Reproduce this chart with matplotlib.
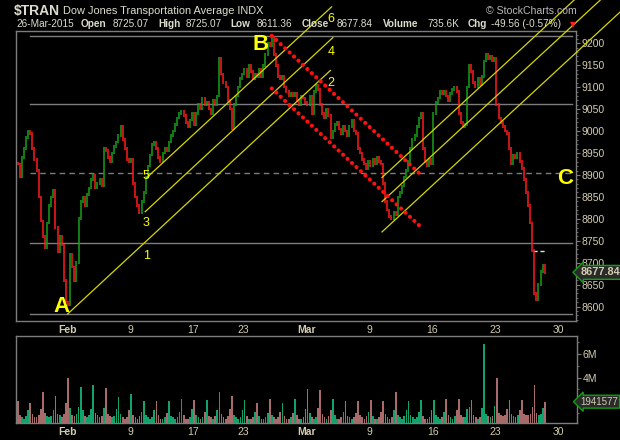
import matplotlib
matplotlib.use("Agg")
import matplotlib.pyplot as plt
from matplotlib.ticker import MultipleLocator, FuncFormatter
import numpy as np

plt.rcParams['font.family'] = ['Liberation Sans', 'DejaVu Sans']

# x unit = trading day, 0 = Feb 2 2015 (Feb 16 holiday skipped); 6 intraday bars per day
first_day = -4
bars_per_day = 6
tick_days = [0, 5, 10, 14, 19, 24, 29, 34, 39]
tick_labels = ["Feb", "9", "17", "23", "Mar", "9", "16", "23", "30"]

closes = [
    # Jan 27 - Jan 30
    8925, 8895, 8940, 8960, 8985, 9000,
    8995, 8960, 8935, 8910, 8850, 8795,
    8760, 8735, 8790, 8830, 8850, 8865,
    8780, 8725, 8760, 8740, 8660, 8610,
    # Feb 2 - Feb 6
    8605, 8720, 8690, 8660, 8700, 8800,
    8840, 8850, 8830, 8855, 8870, 8890,
    8900, 8870, 8880, 8890, 8875, 8960,
    8955, 8940, 8930, 8950, 8965, 8975,
    8990, 9010, 8980, 8960, 8935, 8930,
    # Feb 9 - Feb 13
    8935, 8880, 8850, 8830, 8815, 8840,
    8860, 8895, 8920, 8945, 8970, 8975,
    8960, 8940, 8930, 8950, 8960, 8955,
    8975, 8990, 9000, 9015, 9030, 9040,
    9045, 9035, 9020, 9010, 9025, 9040,
    # Feb 17 - Feb 20
    9015, 9040, 9060, 9050, 9075, 9060,
    9065, 9050, 9040, 9070, 9060, 9080,
    9165, 9130, 9110, 9100, 9070, 9050,
    9005, 9060, 9080, 9100, 9120, 9130,
    # Feb 23 - Feb 27
    9140, 9125, 9150, 9135, 9120, 9130,
    9125, 9140, 9125, 9150, 9175, 9200,
    9195, 9214, 9175, 9150, 9125, 9120,
    9125, 9100, 9090, 9080, 9085, 9080,
    9085, 9070, 9060, 9080, 9075, 9065,
    # Mar 2 - Mar 6
    9060, 9080, 9040, 9090, 9105, 9095,
    9060, 9040, 9030, 9050, 9035, 8985,
    9000, 9015, 9020, 9005, 8995, 9010,
    9000, 8990, 9010, 9025, 9000, 8995,
    8960, 8950, 8935, 8925, 8915, 8930,
    # Mar 9 - Mar 13
    8920, 8935, 8925, 8940, 8930, 8925,
    8880, 8840, 8820, 8805, 8800, 8815,
    8810, 8850, 8860, 8875, 8895, 8910,
    8930, 8960, 8980, 8990, 9010, 9030,
    9040, 8960, 8930, 8920, 8935, 8925,
    # Mar 16 - Mar 20
    9040, 9065, 9075, 9090, 9085, 9090,
    9080, 9070, 9085, 9095, 9100, 9090,
    9040, 9020, 9010, 9015, 9100, 9150,
    9135, 9110, 9100, 9120, 9105, 9125,
    9160, 9175, 9165, 9170, 9160, 9165,
    # Mar 23 - Mar 26
    9060, 9030, 9020, 9010, 9000, 8995,
    8960, 8925, 8945, 8940, 8950, 8930,
    8915, 8890, 8860, 8830, 8790, 8727.40,
    8630, 8615, 8650, 8680, 8695, 8677.84,
]

# volume in millions, same bars
volumes_m = [
    2.0, 0.8, 0.6, 0.5, 0.7, 1.2,
    1.8, 0.9, 0.6, 0.6, 0.8, 1.3,
    2.8, 1.0, 0.7, 0.6, 0.7, 1.2,
    2.4, 0.9, 0.8, 0.6, 0.9, 1.8,
    3.95, 1.4, 0.8, 0.7, 0.9, 1.5,
    3.2, 1.2, 0.7, 0.6, 0.8, 1.3,
    3.4, 1.0, 0.8, 0.6, 0.7, 1.4,
    3.1, 0.9, 0.7, 0.6, 0.7, 1.3,
    2.3, 0.9, 0.6, 0.5, 0.6, 1.2,
    2.6, 0.8, 0.6, 0.5, 0.7, 1.1,
    2.0, 0.8, 0.6, 0.5, 0.6, 1.2,
    2.0, 0.8, 0.5, 0.5, 0.6, 1.0,
    2.0, 0.7, 0.6, 0.5, 0.6, 1.1,
    2.2, 0.8, 0.5, 0.5, 0.6, 1.3,
    2.1, 0.8, 0.6, 0.5, 0.6, 1.1,
    2.1, 0.7, 0.6, 0.5, 0.7, 1.2,
    2.8, 0.9, 0.6, 0.5, 0.7, 1.3,
    2.4, 0.8, 0.6, 0.5, 0.6, 1.2,
    2.1, 0.7, 0.5, 0.5, 0.6, 1.1,
    1.8, 0.7, 0.5, 0.5, 0.6, 1.0,
    2.2, 0.8, 0.6, 0.5, 0.6, 1.1,
    1.8, 0.7, 0.5, 0.5, 0.6, 1.0,
    2.2, 0.8, 0.5, 0.5, 0.6, 1.3,
    3.0, 1.0, 0.6, 0.5, 0.6, 1.4,
    2.9, 0.9, 0.6, 0.5, 0.7, 1.2,
    2.2, 0.8, 0.5, 0.5, 0.6, 1.1,
    2.0, 0.7, 0.6, 0.5, 0.6, 1.0,
    2.0, 0.8, 0.6, 0.5, 0.7, 1.1,
    2.1, 0.7, 0.5, 0.5, 0.6, 1.1,
    2.0, 0.9, 0.6, 0.5, 0.6, 1.2,
    2.8, 0.8, 0.6, 0.5, 0.7, 1.2,
    2.0, 0.8, 0.6, 0.5, 0.6, 1.1,
    2.1, 0.7, 0.5, 0.5, 0.6, 1.2,
    2.1, 0.8, 0.6, 0.5, 0.6, 1.1,
    2.2, 0.8, 0.6, 0.5, 0.7, 1.2,
    2.2, 0.8, 0.6, 0.6, 1.3, 1.5,
    2.1, 0.8, 0.6, 0.5, 0.6, 1.4,
    6.9, 0.9, 0.7, 0.6, 0.7, 1.6,
    4.0, 1.0, 0.8, 0.7, 0.8, 1.3,
    2.1, 0.9, 0.7, 0.6, 0.8, 1.2,
    2.1, 0.9, 0.8, 0.8, 0.9, 1.5,
    3.4, 1.0, 0.8, 0.9, 1.4, 1.94,
]

# drawn levels and annotation lines (day, price)
solid_levels = [9217, 9062, 8744, 8583]
dashed_level = 8904
prev_close = 8727.40
last_close = 8677.84
last_volume = 1941577
chan_a_days = [[0.05, 20.9], [6.2, 21.1], [6.3, 21.0]]
chan_a_prices = [[8583, 9138], [8816, 9213], [8893, 9283]]
chan_b_days = [[25.0, 46.0], [25.0, 46.0], [25.0, 46.0]]
chan_b_prices = [[8894, 9451], [8839, 9396], [8770, 9327]]
down_days = [[16.25, 28.1], [16.25, 28.1]]
down_prices = [[9217, 8900], [9097, 8781]]

BG = 'black'
GRID = '#7c7c7c'
TXT = '#d4cdb0'
HEAD = '#dcdccc'
UP, DN = '#18a018', '#ff1c1c'
VUP, VDN = '#10a46c', '#a96a6a'
YEL = '#ffff00'
W, H = 620, 440


def box(l, t, r, b):
    return [l / W, 1 - b / H, (r - l) / W, (b - t) / H]


def fpos(x, y):
    return x / W, 1 - y / H


fig = plt.figure(figsize=(6.2, 4.4), dpi=100, facecolor=BG)
ax = fig.add_axes(box(16, 31, 576, 321), facecolor=BG)
axv = fig.add_axes(box(16, 336, 577, 423), facecolor=BG)

c = np.array(closes, dtype=float)
v = np.array(volumes_m) * 1e6
x = first_day + (np.arange(len(c)) + 0.5) / bars_per_day
prev = np.r_[c[0] + 1, c[:-1]]
up = c > prev

# price bars
lo = np.minimum(prev, c) - 3
hi = np.maximum(prev, c) + 3
ax.vlines(x, lo, hi, colors=np.where(up, UP, DN), linewidth=1.1, zorder=3)

# horizontal levels
for lv in solid_levels:
    ax.axhline(lv, xmin=0.025, xmax=0.993, color=GRID, lw=1, zorder=1)
ax.axhline(dashed_level, xmin=0.025, xmax=0.993, color=GRID, lw=1, ls=(0, (4, 3)), zorder=1)
ax.plot([37, 38], [prev_close, prev_close], color='#e0e0e0', lw=1, ls=(0, (3, 2)), zorder=2)

# trend channels
for dd, pp in zip(chan_a_days + chan_b_days, chan_a_prices + chan_b_prices):
    ax.plot(dd, pp, color='#d6d600', lw=0.9, clip_on=False, zorder=5)
for dd, pp in zip(down_days, down_prices):
    ax.plot(dd, pp, color='#ff1010', lw=3.0, ls=(0, (0.01, 1.45)),
            dash_capstyle='round', clip_on=False, zorder=6)

ax.set_xlim(-4.05, 40.4)
ax.set_ylim(8567, 9228)
axv.set_xlim(-4.05, 40.45)
axv.set_ylim(0.12e6, 7.55e6)

axv.bar(x, v, width=0.8 / bars_per_day, color=np.where(up, VUP, VDN), zorder=2)

for a in (ax, axv):
    for s in a.spines.values():
        s.set_color(GRID)
        s.set_linewidth(1)
    a.set_xticks(tick_days)
    a.set_xticklabels(tick_labels)
    a.tick_params(axis='x', length=0, pad=3, labelsize=7.5, labelcolor=TXT)
    a.yaxis.tick_right()
    a.tick_params(axis='y', which='both', colors=GRID, labelcolor=TXT,
                  labelsize=7.5, pad=1.2)
    a.tick_params(axis='y', which='major', length=3)
    a.tick_params(axis='y', which='minor', length=1.5)
    for lab in a.get_xticklabels():
        if lab.get_text() in ("Feb", "Mar"):
            lab.set_fontweight('bold')

ax.yaxis.set_major_locator(MultipleLocator(50))
ax.yaxis.set_minor_locator(MultipleLocator(10))
ax.yaxis.set_major_formatter(FuncFormatter(lambda val, p: f"{val:.0f}"))
axv.set_yticks([4e6, 6e6])
axv.yaxis.set_minor_locator(MultipleLocator(1e6))
axv.yaxis.set_major_formatter(FuncFormatter(lambda val, p: f"{val / 1e6:.0f}M"))

# last value boxes
ax.text(1.008, last_close, f"{last_close:.2f}", transform=ax.get_yaxis_transform(),
        ha='left', va='center', fontsize=7.8, fontweight='bold', color=TXT,
        bbox=dict(boxstyle='larrow,pad=0.18', fc='#2a2a2a', ec='#10a010', lw=1),
        clip_on=False, zorder=8)
axv.text(1.006, last_volume, f"{last_volume}", transform=axv.get_yaxis_transform(),
         ha='left', va='center', fontsize=7, color=TXT,
         bbox=dict(boxstyle='larrow,pad=0.15', fc='#2a2a2a', ec='#10a010', lw=1),
         clip_on=False, zorder=8)

# header
fig.text(*fpos(14, 11), "$TRAN", fontsize=10, fontweight='bold', color=HEAD, va='center')
fig.text(*fpos(63, 11), "Dow Jones Transportation Average INDX", fontsize=7.9,
         color=HEAD, va='center')
fig.text(*fpos(577, 11), "\u00a9 StockCharts.com", fontsize=7.6, color='#b8b8b8',
         va='center', ha='right')
row2 = [("26-Mar-2015", 16, 'normal'), ("Open", 81, 'bold'), ("8725.07", 113, 'normal'),
        ("High", 158, 'bold'), ("8725.07", 186, 'normal'), ("Low", 230, 'bold'),
        ("8611.36", 257, 'normal'), ("Close", 302, 'bold'), ("8677.84", 337, 'normal'),
        ("Volume", 383, 'bold'), ("735.6K", 428, 'normal'), ("Chg", 468, 'bold'),
        ("-49.56 (-0.57%)", 491, 'normal')]
for t, xp, wt in row2:
    fig.text(*fpos(xp, 24), t, fontsize=7.2, fontweight=wt, color=HEAD, va='center')
fig.text(*fpos(573, 25), "\u25bc", fontsize=5.5, color='#ff2020', va='center',
         ha='center', family=['DejaVu Sans'])

# wave labels
for t, xp, yp in [("A", 61, 306), ("B", 261, 44), ("C", 565, 178)]:
    fig.text(*fpos(xp, yp), t, fontsize=16, fontweight='bold', color=YEL,
             ha='center', va='center', zorder=9)
for t, xp, yp in [("1", 147, 256), ("2", 331, 83), ("3", 146, 223),
                  ("4", 331, 52), ("5", 146, 176), ("6", 331, 19)]:
    fig.text(*fpos(xp, yp), t, fontsize=9, color=YEL, ha='center', va='center', zorder=9)

fig.savefig('out.png', dpi=100, facecolor=BG)
